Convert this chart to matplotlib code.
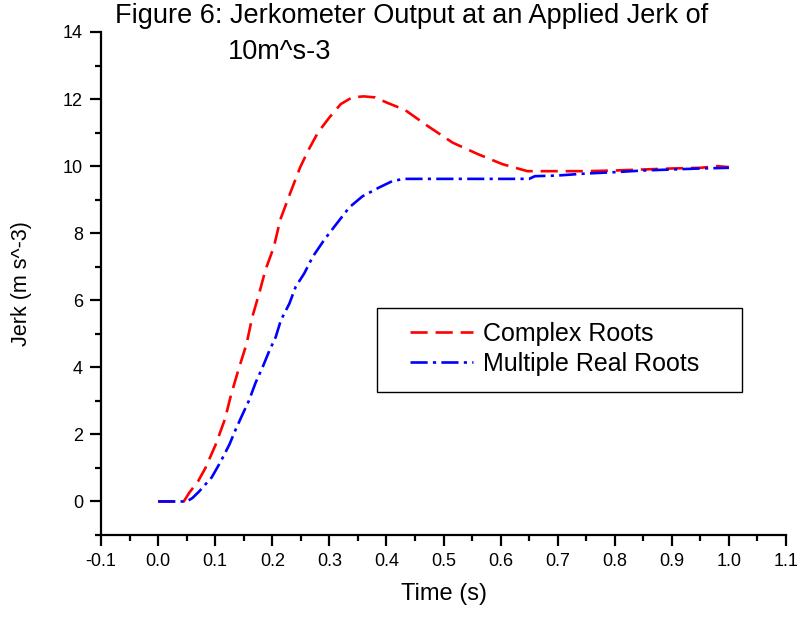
import matplotlib
matplotlib.use("Agg")
import matplotlib.pyplot as plt
from matplotlib.patches import Rectangle
from matplotlib.ticker import MultipleLocator, FormatStrFormatter

plt.rcParams['font.family'] = ['Liberation Sans', 'DejaVu Sans']

complex_t = [0.0, 0.02, 0.045, 0.055, 0.07, 0.083, 0.101, 0.117, 0.128, 0.141, 0.155,
             0.165, 0.177, 0.188, 0.203, 0.214, 0.232, 0.249, 0.264, 0.28, 0.30, 0.32,
             0.34, 0.36, 0.38, 0.40, 0.433, 0.472, 0.516, 0.56, 0.603, 0.647, 0.70,
             0.75, 0.80, 0.85, 0.90, 0.95, 0.98, 1.0]
complex_j = [0.0, 0.0, 0.0, 0.27, 0.6, 1.0, 1.7, 2.45, 3.19, 3.94, 4.7,
             5.5, 6.2, 6.9, 7.6, 8.4, 9.22, 9.97, 10.5, 11.0, 11.45, 11.85,
             12.05, 12.08, 12.05, 11.9, 11.67, 11.2, 10.7, 10.36, 10.06, 9.85, 9.85,
             9.85, 9.87, 9.9, 9.93, 9.95, 10.0, 9.97]

real_t = [0.0, 0.05, 0.06, 0.072, 0.094, 0.11, 0.125, 0.136, 0.148, 0.159, 0.171,
          0.183, 0.195, 0.206, 0.215, 0.23, 0.241, 0.256, 0.271, 0.291, 0.309, 0.335,
          0.358, 0.388, 0.41, 0.43, 0.5, 0.6, 0.65, 0.66, 0.7, 0.75, 0.8, 0.85,
          0.9, 0.95, 1.0]
real_j = [0.0, 0.0, 0.1, 0.3, 0.72, 1.2, 1.7, 2.15, 2.6, 3.0, 3.55,
          4.0, 4.5, 4.9, 5.4, 5.9, 6.4, 6.8, 7.3, 7.8, 8.2, 8.77,
          9.1, 9.37, 9.55, 9.62, 9.62, 9.62, 9.62, 9.7, 9.72, 9.78, 9.82, 9.87,
          9.9, 9.93, 9.95]

W, H = 805, 619
AX_L, AX_R, AX_T, AX_B = 101, 786, 32, 535
fig = plt.figure(figsize=(W / 100, H / 100), dpi=100)
ax = fig.add_axes([AX_L / W, 1 - AX_B / H, (AX_R - AX_L) / W, (AX_B - AX_T) / H])


def axfrac(px, py):
    return (px - AX_L) / (AX_R - AX_L), 1 - (py - AX_T) / (AX_B - AX_T)


ax.plot(complex_t, complex_j, color='#ff0000', lw=1.9, dashes=(6.5, 3.0),
        label='Complex Roots')
ax.plot(real_t, real_j, color='#0000ff', lw=1.9, dashes=(6.5, 2.0, 1.2, 2.0),
        label='Multiple Real Roots')

ax.set_xlim(-0.1, 1.1)
ax.set_ylim(-1, 14)
ax.xaxis.set_major_locator(MultipleLocator(0.1))
ax.xaxis.set_minor_locator(MultipleLocator(0.05))
ax.xaxis.set_major_formatter(FormatStrFormatter('%.1f'))
ax.yaxis.set_minor_locator(MultipleLocator(1))
ax.set_yticks([0, 2, 4, 6, 8, 10, 12, 14])

for s in ['top', 'right']:
    ax.spines[s].set_visible(False)
for s in ['left', 'bottom']:
    ax.spines[s].set_linewidth(1.6)

ax.tick_params(which='major', direction='out', length=8, width=1.6, labelsize=13, pad=5)
ax.tick_params(which='minor', direction='out', length=4, width=1.6)

ax.set_xlabel('Time (s)', fontsize=17, labelpad=9)
ax.set_ylabel('Jerk (m s^-3)', fontsize=15.5, labelpad=22)

# legend frame (asymmetric padding as in the reference)
x0, y0 = axfrac(377, 392)
x1, y1 = axfrac(742, 308)
ax.add_patch(Rectangle((x0, y0), x1 - x0, y1 - y0, transform=ax.transAxes,
                       facecolor='white', edgecolor='black', lw=1.0, zorder=4))

leg = ax.legend(loc='upper left', bbox_to_anchor=axfrac(410, 322),
                fontsize=18, frameon=False, handlelength=2.5,
                handletextpad=0.4, labelspacing=0.24, borderpad=0, borderaxespad=0)
leg.set_zorder(5)

fig.text(412 / W, 1 - 23 / H, 'Figure 6: Jerkometer Output at an Applied Jerk of',
         ha='center', va='baseline', fontsize=19.5)
fig.text(228 / W, 1 - 59 / H, '10m^s-3', ha='left', va='baseline', fontsize=19.5)

fig.savefig('out.png', dpi=100)
